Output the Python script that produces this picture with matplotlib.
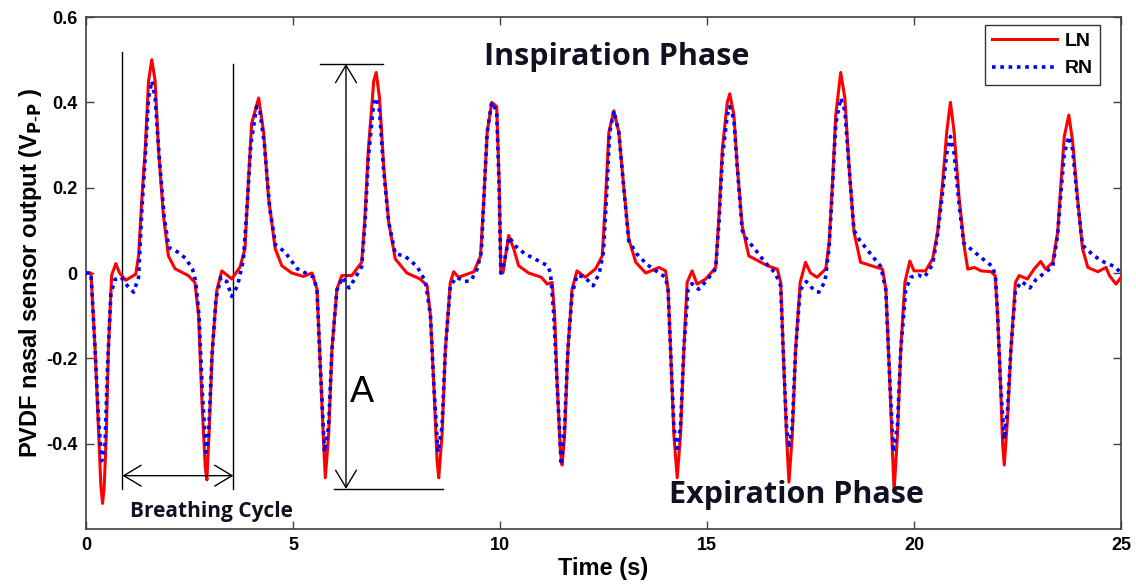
import matplotlib
matplotlib.use("Agg")
import matplotlib.pyplot as plt

# ---- data ----
ln_t = [0.00, 0.12, 0.22, 0.30, 0.36, 0.40, 0.44, 0.49, 0.54, 0.62, 0.72, 0.81, 0.96, 1.20, 1.27, 1.35, 1.43, 1.51, 1.59, 1.67,
        1.75, 1.87, 1.99, 2.15, 2.47, 2.63, 2.72, 2.80, 2.88, 2.92, 2.97, 3.05, 3.16, 3.28, 3.52, 3.72, 3.84, 3.92, 4.00, 4.17,
        4.29, 4.41, 4.57, 4.73, 4.97, 5.25, 5.46, 5.58, 5.66, 5.74, 5.78, 5.86, 5.94, 6.06, 6.18, 6.42, 6.66, 6.74, 6.82, 6.95,
        7.01, 7.09, 7.19, 7.31, 7.47, 7.75, 8.07, 8.24, 8.32, 8.40, 8.48, 8.52, 8.60, 8.68, 8.80, 8.88, 9.00, 9.37, 9.53, 9.61,
        9.69, 9.80, 9.92, 9.98, 10.02, 10.07, 10.21, 10.33, 10.45, 10.69, 11.00, 11.14, 11.26, 11.32, 11.38, 11.46, 11.50, 11.56, 11.64, 11.74,
        11.86, 12.06, 12.31, 12.47, 12.55, 12.63, 12.75, 12.87, 12.99, 13.11, 13.28, 13.52, 13.84, 14.00, 14.06, 14.12, 14.20, 14.28, 14.36, 14.44,
        14.52, 14.64, 14.76, 14.97, 15.21, 15.29, 15.37, 15.49, 15.55, 15.65, 15.73, 15.85, 16.01, 16.46, 16.70, 16.78, 16.84, 16.92, 16.98, 17.06,
        17.14, 17.25, 17.38, 17.50, 17.66, 17.87, 17.95, 18.03, 18.11, 18.23, 18.33, 18.43, 18.55, 18.71, 19.24, 19.32, 19.40, 19.48, 19.52, 19.60,
        19.68, 19.78, 19.90, 20.00, 20.28, 20.45, 20.57, 20.69, 20.79, 20.88, 20.97, 21.09, 21.22, 21.30, 21.46, 21.62, 21.86, 21.96, 22.02, 22.09,
        22.14, 22.18, 22.26, 22.34, 22.45, 22.54, 22.74, 22.90, 23.06, 23.18, 23.35, 23.47, 23.55, 23.63, 23.74, 23.83, 23.95, 24.07, 24.20, 24.44,
        24.64, 24.72, 24.88, 25.00]
ln_v = [0.000, 0.000, -0.18, -0.36, -0.50, -0.54, -0.50, -0.38, -0.18, -0.005, 0.022, 0.000, -0.017, -0.003, 0.040, 0.175, 0.29, 0.45, 0.50, 0.45,
        0.29, 0.135, 0.040, 0.010, -0.006, -0.022, -0.10, -0.30, -0.455, -0.485, -0.38, -0.18, -0.04, 0.005, -0.014, 0.014, 0.057, 0.21, 0.35, 0.41,
        0.33, 0.175, 0.057, 0.017, 0.000, -0.008, 0.000, -0.038, -0.22, -0.40, -0.48, -0.38, -0.18, -0.038, -0.006, -0.006, 0.025, 0.135, 0.29, 0.45,
        0.47, 0.41, 0.25, 0.12, 0.033, 0.000, -0.014, -0.030, -0.10, -0.26, -0.44, -0.48, -0.38, -0.18, -0.022, 0.003, -0.010, 0.003, 0.040, 0.175,
        0.33, 0.40, 0.39, 0.21, 0.000, 0.000, 0.088, 0.057, 0.017, 0.000, -0.010, -0.026, -0.022, -0.10, -0.26, -0.42, -0.45, -0.38, -0.18, -0.038,
        0.005, -0.010, 0.010, 0.040, 0.175, 0.33, 0.38, 0.33, 0.20, 0.08, 0.025, 0.000, 0.013, 0.005, -0.04, -0.18, -0.38, -0.48, -0.38, -0.18,
        -0.022, 0.005, -0.026, -0.014, 0.013, 0.135, 0.29, 0.40, 0.42, 0.37, 0.25, 0.11, 0.040, 0.017, 0.009, -0.022, -0.18, -0.38, -0.49, -0.38,
        -0.18, -0.022, 0.025, 0.000, -0.010, 0.010, 0.072, 0.21, 0.37, 0.47, 0.41, 0.25, 0.096, 0.025, 0.009, -0.038, -0.22, -0.42, -0.51, -0.38,
        -0.18, -0.022, 0.028, 0.005, 0.005, 0.033, 0.096, 0.21, 0.33, 0.40, 0.33, 0.175, 0.057, 0.009, 0.013, 0.005, 0.003, -0.006, -0.10, -0.26,
        -0.40, -0.45, -0.34, -0.18, -0.022, -0.006, -0.014, 0.009, 0.027, 0.009, 0.025, 0.096, 0.21, 0.32, 0.37, 0.31, 0.175, 0.057, 0.013, 0.003,
        0.013, -0.006, -0.026, -0.010]

rn_t = [0.00, 0.12, 0.22, 0.30, 0.38, 0.46, 0.52, 0.60, 0.70, 0.85, 1.00, 1.15, 1.27, 1.35, 1.43, 1.51, 1.59, 1.67, 1.77, 1.89,
        2.00, 2.20, 2.40, 2.57, 2.65, 2.73, 2.81, 2.90, 2.96, 3.04, 3.14, 3.26, 3.40, 3.52, 3.66, 3.80, 3.90, 3.98, 4.12, 4.20,
        4.31, 4.44, 4.58, 4.80, 5.10, 5.30, 5.50, 5.58, 5.66, 5.76, 5.86, 5.94, 6.06, 6.20, 6.35, 6.45, 6.66, 6.74, 6.82, 6.95,
        7.01, 7.09, 7.19, 7.31, 7.47, 7.70, 8.00, 8.20, 8.32, 8.40, 8.50, 8.60, 8.68, 8.80, 8.95, 9.15, 9.30, 9.45, 9.55, 9.61,
        9.69, 9.80, 9.92, 9.98, 10.02, 10.07, 10.22, 10.35, 10.60, 10.90, 11.15, 11.22, 11.30, 11.38, 11.48, 11.56, 11.64, 11.74, 11.86, 12.05,
        12.25, 12.40, 12.50, 12.57, 12.65, 12.75, 12.87, 12.99, 13.11, 13.30, 13.55, 13.84, 14.00, 14.06, 14.12, 14.20, 14.28, 14.36, 14.44, 14.54,
        14.64, 14.80, 14.97, 15.21, 15.29, 15.37, 15.49, 15.55, 15.65, 15.73, 15.85, 15.95, 16.15, 16.40, 16.65, 16.78, 16.84, 16.92, 16.98, 17.06,
        17.14, 17.25, 17.40, 17.58, 17.70, 17.85, 17.95, 18.03, 18.11, 18.23, 18.33, 18.43, 18.55, 18.70, 18.95, 19.20, 19.32, 19.40, 19.50, 19.60,
        19.68, 19.80, 19.92, 20.10, 20.25, 20.45, 20.57, 20.69, 20.79, 20.88, 20.97, 21.09, 21.20, 21.45, 21.70, 21.90, 21.97, 22.02, 22.09, 22.18,
        22.26, 22.34, 22.45, 22.60, 22.80, 22.95, 23.15, 23.35, 23.47, 23.55, 23.63, 23.74, 23.83, 23.95, 24.07, 24.35, 24.60, 24.85, 25.00]
rn_v = [0.000, 0.000, -0.18, -0.34, -0.44, -0.40, -0.22, -0.05, -0.015, -0.010, -0.030, -0.045, -0.010, 0.15, 0.27, 0.41, 0.45, 0.41, 0.27, 0.13,
        0.060, 0.050, 0.035, 0.010, -0.02, -0.10, -0.28, -0.42, -0.38, -0.20, -0.06, -0.010, -0.020, -0.055, -0.030, 0.030, 0.17, 0.30, 0.39, 0.38,
        0.30, 0.15, 0.065, 0.050, 0.010, 0.000, -0.010, -0.04, -0.22, -0.42, -0.36, -0.18, -0.04, -0.010, -0.035, -0.020, 0.015, 0.12, 0.27, 0.40,
        0.41, 0.38, 0.24, 0.12, 0.045, 0.040, 0.015, -0.020, -0.10, -0.26, -0.42, -0.36, -0.18, -0.03, -0.010, -0.020, -0.018, 0.010, 0.050, 0.175,
        0.33, 0.40, 0.38, 0.20, 0.000, 0.010, 0.085, 0.065, 0.045, 0.030, 0.017, 0.000, -0.10, -0.26, -0.45, -0.36, -0.18, -0.05, -0.005, -0.010,
        -0.030, 0.000, 0.050, 0.175, 0.33, 0.38, 0.33, 0.20, 0.075, 0.045, 0.020, 0.000, -0.010, -0.04, -0.18, -0.36, -0.42, -0.36, -0.18, -0.04,
        -0.025, -0.038, -0.020, 0.010, 0.12, 0.27, 0.37, 0.39, 0.36, 0.25, 0.10, 0.080, 0.057, 0.025, 0.000, -0.03, -0.18, -0.36, -0.41, -0.36,
        -0.18, -0.04, -0.020, -0.040, -0.045, -0.020, 0.060, 0.20, 0.35, 0.41, 0.38, 0.25, 0.10, 0.075, 0.045, 0.015, -0.04, -0.22, -0.42, -0.36,
        -0.18, -0.04, -0.010, -0.005, -0.010, 0.020, 0.090, 0.19, 0.28, 0.32, 0.28, 0.16, 0.070, 0.050, 0.030, 0.015, -0.010, -0.10, -0.26, -0.39,
        -0.32, -0.18, -0.04, -0.020, -0.035, -0.015, 0.000, 0.015, 0.090, 0.19, 0.28, 0.32, 0.29, 0.17, 0.065, 0.040, 0.025, 0.015, 0.000]

series_labels = ["LN", "RN"]
x_ticks = [0, 5, 10, 15, 20, 25]
y_ticks = [-0.4, -0.2, 0, 0.2, 0.4, 0.6]
y_tick_labels = ["-0.4", "-0.2", "0", "0.2", "0.4", "0.6"]

# ---- figure ----
fig = plt.figure(figsize=(11.36, 5.88), dpi=100)
ax = fig.add_axes([86 / 1136, 1 - 529 / 588, (1121 - 86) / 1136, (529 - 17) / 588])

ax.plot(ln_t, ln_v, color="red", lw=2.2, label=series_labels[0], zorder=3)
ax.plot(rn_t, rn_v, color="blue", lw=2.6, linestyle=(0, (1, 1.3)), label=series_labels[1], zorder=4)

ax.set_xlim(0, 25)
ax.set_ylim(-0.6, 0.6)
ax.set_xticks(x_ticks)
ax.set_xticklabels([str(v) for v in x_ticks])
ax.set_yticks(y_ticks)
ax.set_yticklabels(y_tick_labels)

for s in ax.spines.values():
    s.set_color("#404040")
    s.set_linewidth(1.2)
ax.tick_params(direction="in", top=True, right=True, length=6, width=1, color="#404040",
               labelsize=13, pad=6)
for lab in ax.get_xticklabels() + ax.get_yticklabels():
    lab.set_fontweight("bold")
    lab.set_fontfamily("Liberation Sans")

ax.set_xlabel("Time (s)", fontsize=17, fontweight="bold", family="Liberation Sans", labelpad=2)
ax.set_ylabel(r"PVDF nasal sensor output (V$_{\mathbf{P\text{-}P}}$ )", fontsize=17, fontweight="bold",
              family="Liberation Sans", labelpad=2)

leg = ax.legend(loc="upper right", bbox_to_anchor=(0.98, 0.985), borderaxespad=0, frameon=True,
                fancybox=False, edgecolor="black", handlelength=3.3,
                prop={"weight": "bold", "family": "Liberation Sans", "size": 14},
                borderpad=0.4, labelspacing=0.5, handletextpad=0.4)
leg.get_frame().set_linewidth(1.0)

# ---- annotations ----
lk = dict(color="black", lw=1.0, zorder=2)
ax.plot([0.88, 0.88], [0.518, -0.506], **lk)
ax.plot([3.56, 3.56], [0.49, -0.506], **lk)
ax.annotate("", xy=(0.88, -0.475), xytext=(3.56, -0.475),
            arrowprops=dict(arrowstyle="<->,head_length=0.5,head_width=0.3", color="black", lw=1.0,
                            shrinkA=0, shrinkB=0, mutation_scale=25))
ax.plot([5.66, 7.18], [0.49, 0.49], **lk)
ax.plot([5.98, 8.63], [-0.506, -0.506], **lk)
ax.annotate("", xy=(6.28, 0.49), xytext=(6.28, -0.506),
            arrowprops=dict(arrowstyle="<->,head_length=0.5,head_width=0.3", color="black", lw=1.0,
                            shrinkA=0, shrinkB=0, mutation_scale=25))

txt = dict(family="Open Sans", fontweight="bold", color="#111122", ha="center", va="center")
ax.text(3.03, -0.56, "Breathing Cycle", fontsize=15, **txt)
ax.text(12.81, 0.506, "Inspiration Phase", fontsize=22, **txt)
ax.text(17.17, -0.52, "Expiration Phase", fontsize=22, **txt)
ax.text(6.67, -0.28, "A", fontsize=26, family="Liberation Sans", color="black", ha="center", va="center")

fig.savefig("out.png", dpi=100)
